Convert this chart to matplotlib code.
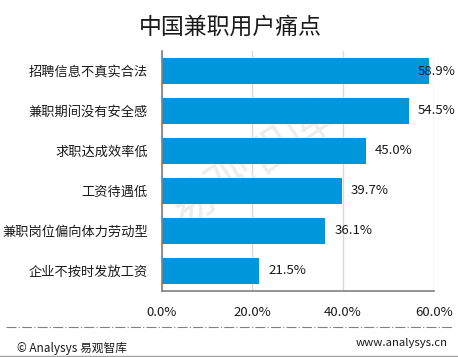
import matplotlib
matplotlib.use("Agg")
import matplotlib.pyplot as plt
from matplotlib.lines import Line2D

plt.rcParams['font.family'] = ['Noto Sans CJK SC', 'DejaVu Sans']

title = "中国兼职用户痛点"
categories = ["招聘信息不真实合法", "兼职期间没有安全感", "求职达成效率低", "工资待遇低",
              "兼职岗位偏向体力劳动型", "企业不按时发放工资"]
values = [58.9, 54.5, 45.0, 39.7, 36.1, 21.5]
xticks = [0, 20, 40, 60]
xticklabels = ["0.0%", "20.0%", "40.0%", "60.0%"]

fig = plt.figure(figsize=(4.58, 3.57), dpi=100)
ax = fig.add_axes([0.353, 0.186, 0.594, 0.671])

bar_color = "#0096DC"
ypos = list(range(len(categories)))
ax.barh(ypos, values, height=0.65, color=bar_color, zorder=3)
ax.set_ylim(len(categories) - 0.5, -0.5)
ax.set_xlim(0, 60)
ax.set_yticks(ypos)
ax.set_yticklabels(categories, fontsize=9.5, color="#1a1a1a")
ax.set_xticks(xticks)
ax.set_xticklabels(xticklabels, fontsize=9.5, color="#1a1a1a")
ax.tick_params(axis='y', length=0, pad=10)
ax.tick_params(axis='x', length=0, pad=11)
ax.grid(axis='x', color="#D9D9D9", linewidth=1, zorder=0)
ax.set_axisbelow(True)
for s in ["top", "right"]:
    ax.spines[s].set_visible(False)
for s in ["left", "bottom"]:
    ax.spines[s].set_color("#808080")
    ax.spines[s].set_linewidth(1.2)
    ax.spines[s].set_zorder(4)

for y, v in zip(ypos, values):
    ax.annotate(f"{v:.1f}%", xy=(min(v, 54.5), y), xytext=(6.5, 0), textcoords="offset points",
                va="center", ha="left", fontsize=9.5, color="#1a1a1a", zorder=5,
                annotation_clip=False)

# watermark (behind bars)
ax.text(0.33, 0.52, "易观智库", transform=ax.transAxes, fontsize=34, color="#EDEDED",
        rotation=34, ha="center", va="center", zorder=1)

fig.text(0.503, 0.924, title, fontsize=16.5, ha="center", va="center", color="#1a1a1a")

fig.add_artist(Line2D([0.013, 0.987], [0.085, 0.085], transform=fig.transFigure,
                      color="#808080", linewidth=0.8, linestyle=(0, (9, 2, 1, 2))))
fig.add_artist(Line2D([0.0, 1.0], [0.003, 0.003], transform=fig.transFigure,
                      color="#A0A0A0", linewidth=1.0))
fig.text(0.038, 0.025, "© Analysys 易观智库", fontsize=8.5, ha="left", va="center", color="#1a1a1a")
fig.text(0.978, 0.04, "www.analysys.cn", fontsize=8.2, ha="right", va="center", color="#1a1a1a")

fig.savefig("out.png", dpi=100)
